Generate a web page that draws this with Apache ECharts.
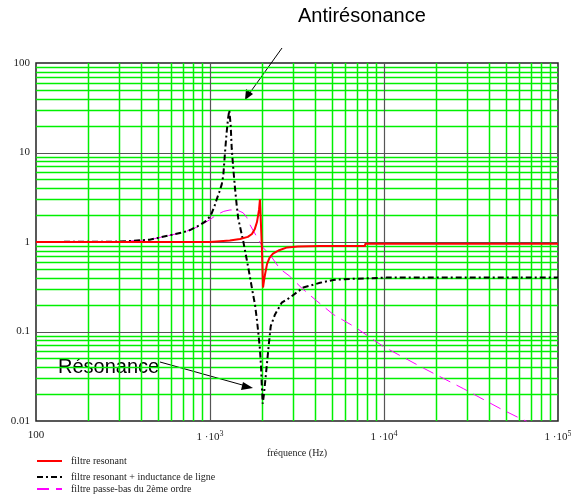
<!DOCTYPE html>
<html>
<head>
<meta charset="utf-8">
<script src="https://cdn.jsdelivr.net/npm/echarts@6/dist/echarts.min.js"></script>
<style>
  html, body { margin: 0; padding: 0; background: #fff; }
  #chart { width: 571px; height: 499px; }
</style>
</head>
<body>
<div id="chart"></div>
<script>
// Frequency responses, [frequency (Hz), |H|]
const filtreResonant = [
  [100, 1.0], [1000, 1.0], [1010, 1.03], [1300, 1.04], [1487, 1.08], [1650, 1.14],
  [1742, 1.23], [1810, 1.4], [1862, 1.67], [1914, 2.3], [1937, 3.0], [1990, 0.8],
  [2017, 0.31], [2040, 0.36], [2070, 0.43], [2128, 0.57], [2200, 0.67], [2301, 0.74],
  [2500, 0.81], [2773, 0.87], [3200, 0.89], [4289, 0.9], [7780, 0.9], [7800, 0.955],
  [100000, 0.955]
];
const filtreInductance = [
  [100, 1.0], [300, 1.01], [450, 1.06], [589, 1.19], [700, 1.28], [767, 1.36],
  [877, 1.55], [950, 1.72], [1000, 1.93], [1023, 2.1], [1060, 2.5], [1093, 3.0],
  [1130, 3.6], [1168, 4.4], [1193, 5.6], [1220, 10.1], [1247, 16.9], [1270, 24],
  [1291, 29.6], [1303, 28.3], [1315, 20.1], [1333, 11.1], [1361, 6.6], [1392, 4.0],
  [1423, 2.6], [1455, 1.8], [1553, 1.02], [1660, 0.515], [1774, 0.25], [1814, 0.2],
  [1854, 0.143], [1895, 0.097], [1937, 0.063], [1964, 0.041], [1982, 0.0265],
  [2009, 0.0156], [2042, 0.02], [2118, 0.041], [2183, 0.075], [2234, 0.115],
  [2364, 0.155], [2583, 0.21], [2886, 0.24], [3436, 0.31], [4289, 0.35],
  [5112, 0.377], [6378, 0.387], [10360, 0.4], [100000, 0.4]
];
const filtrePasseBas = [
  [100, 1.0], [300, 1.01], [450, 1.06], [589, 1.19], [700, 1.28], [767, 1.36],
  [877, 1.52], [1000, 1.78], [1093, 2.02], [1200, 2.2], [1303, 2.28], [1423, 2.28],
  [1550, 2.12], [1626, 1.88], [1699, 1.55], [1854, 1.15], [2024, 0.86], [2213, 0.72],
  [2525, 0.5], [2850, 0.42], [3400, 0.3], [4102, 0.22], [5112, 0.155], [6813, 0.112],
  [9907, 0.068], [16830, 0.039], [28580, 0.023], [46450, 0.0138], [60540, 0.0107],
  [66140, 0.0099]
];

const seriesNames = [
  'filtre resonant',
  'filtre resonant + inductance de ligne',
  'filtre passe-bas du 2ème ordre'
];

// Axis ticks and their labels
const xTicks = [100, 1000, 10000, 100000];
const xTickText = ['100', '1 ·10^3', '1 ·10^4', '1 ·10^5'];
const yTicks = [0.01, 0.1, 1, 10, 100];
const yTickText = ['0.01', '0.1', '1', '10', '100'];

// Intermediate grid lines inside each decade
const xMinor = [200, 300, 400, 500, 600, 700, 800, 900,
                2000, 3000, 4000, 5000, 6000, 7000, 8000, 9000,
                20000, 30000, 40000, 50000, 60000, 70000, 80000, 90000];
const yMinor = [0.02, 0.03, 0.04, 0.05, 0.06, 0.07, 0.08, 0.09,
                0.2, 0.3, 0.4, 0.5, 0.6, 0.7, 0.8, 0.9,
                2, 3, 4, 5, 6, 7, 8, 9,
                20, 30, 40, 50, 60, 70, 80, 90];

const SERIF = '"Liberation Serif", "DejaVu Serif", serif';
const SANS = '"Liberation Sans", Arial, sans-serif';
const GREEN = '#00f000';
const DECADE = '#555555';

function sameLog(a, b) { return Math.abs(Math.log10(a) - Math.log10(b)) < 1e-6; }

function tickLabel(ticks, texts, v) {
  const i = ticks.findIndex(t => sameLog(t, v));
  if (i < 0) return '';
  const s = texts[i];
  const k = s.indexOf('^');
  if (k < 0) return '{b|' + s + '}';
  return '{b|' + s.slice(0, k) + '}{s|' + s.slice(k + 1) + '}';
}

const chart = echarts.init(document.getElementById('chart'), null, { renderer: 'canvas' });

const xMin = xTicks[0], xMax = xTicks[xTicks.length - 1];
const yMin = yTicks[0], yMax = yTicks[yTicks.length - 1];

// Vertical / horizontal grid lines, placed through the axis scales
function vLines(name, values, color, width) {
  return {
    type: 'custom', name, silent: true, z: 1, clip: true,
    data: values.map(v => [v, 1]),
    renderItem: (params, api) => {
      const v = api.value(0);
      const a = api.coord([v, yMax]);
      const b = api.coord([v, yMin]);
      const x = Math.round(a[0]) + 0.5;
      return { type: 'line', silent: true,
               shape: { x1: x, y1: a[1], x2: x, y2: b[1] },
               style: { stroke: color, lineWidth: width, fill: null } };
    }
  };
}
function hLines(name, values, color, width) {
  return {
    type: 'custom', name, silent: true, z: 1, clip: true,
    data: values.map(v => [1000, v]),
    renderItem: (params, api) => {
      const v = api.value(1);
      const a = api.coord([xMin, v]);
      const b = api.coord([xMax, v]);
      const y = Math.round(a[1]) + 0.5;
      return { type: 'line', silent: true,
               shape: { x1: a[0], y1: y, x2: b[0], y2: y },
               style: { stroke: color, lineWidth: width, fill: null } };
    }
  };
}

const hiddenAxisParts = {
  axisLine: { show: false },
  axisTick: { show: false },
  minorTick: { show: false },
  splitLine: { show: false },
  minorSplitLine: { show: false },
  splitArea: { show: false }
};

chart.setOption({
  animation: false,
  backgroundColor: '#ffffff',
  grid: {
    left: 36, right: 13, top: 63, bottom: 78,
    outerBoundsMode: 'none', containLabel: false,
    show: true, borderColor: '#222', borderWidth: 1.5, backgroundColor: 'transparent'
  },
  xAxis: Object.assign({
    type: 'log', logBase: 10, min: xMin, max: xMax,
    name: 'fréquence (Hz)', nameLocation: 'middle', nameGap: 25,
    nameTextStyle: { fontFamily: SERIF, fontSize: 10, color: '#222' },
    axisLabel: {
      margin: 9,
      formatter: v => tickLabel(xTicks, xTickText, v),
      rich: {
        b: { fontFamily: SERIF, fontSize: 11, color: '#222' },
        s: { fontFamily: SERIF, fontSize: 8, color: '#222', padding: [0, 0, 7, 0], verticalAlign: 'bottom' }
      }
    }
  }, hiddenAxisParts),
  yAxis: Object.assign({
    type: 'log', logBase: 10, min: yMin, max: yMax,
    name: 'amplitude', nameLocation: 'middle', nameGap: 32, nameRotate: 90,
    nameTextStyle: { fontFamily: SERIF, fontSize: 7, color: '#888' },
    axisLabel: {
      margin: 6,
      fontFamily: SERIF, fontSize: 11, color: '#222',
      formatter: v => { const i = yTicks.findIndex(t => sameLog(t, v)); return i < 0 ? '' : yTickText[i]; }
    }
  }, hiddenAxisParts),
  legend: [0, 1, 2].map((i, k) => ({
    data: [seriesNames[i]],
    left: 36,
    top: [456, 472, 484][k],
    orient: 'vertical',
    itemWidth: 25, itemHeight: 10, itemGap: 0,
    padding: 0,
    itemStyle: { opacity: 0 },
    textStyle: { fontFamily: SERIF, fontSize: 10, color: '#222', padding: [0, 0, 0, 4] }
  })),
  series: [
    vLines('gridX', xMinor, GREEN, 1.5),
    hLines('gridY', yMinor, GREEN, 1.5),
    vLines('decadeX', xTicks.slice(1, -1), DECADE, 1.2),
    hLines('decadeY', yTicks.slice(1, -1), DECADE, 1.2),
    {
      type: 'line', name: seriesNames[2], data: filtrePasseBas, z: 3,
      showSymbol: false, symbol: 'none', smooth: false,
      lineStyle: { color: '#ff00ff', width: 1, type: [12, 7] },
      itemStyle: { color: '#ff00ff' }
    },
    {
      type: 'line', name: seriesNames[1], data: filtreInductance, z: 4,
      showSymbol: false, symbol: 'none',
      lineStyle: { color: '#000', width: 2, type: [6, 3, 2, 3] },
      itemStyle: { color: '#000' }
    },
    {
      type: 'line', name: seriesNames[0], data: filtreResonant, z: 5,
      showSymbol: false, symbol: 'none',
      lineStyle: { color: '#ff0000', width: 2 },
      itemStyle: { color: '#ff0000' }
    }
  ],
  graphic: [
    { type: 'text', left: 298, top: 6,
      style: { text: 'Antirésonance', font: '20px ' + SANS, fill: '#000' } },
    { type: 'line', shape: { x1: 282, y1: 48, x2: 249, y2: 94 },
      style: { stroke: '#000', lineWidth: 1 } },
    { type: 'polygon', shape: { points: [[245, 100], [246, 89], [253, 94]] },
      style: { fill: '#000' } },
    { type: 'text', left: 58, top: 357,
      style: { text: 'Résonance', font: '20px ' + SANS, fill: '#000',
               backgroundColor: '#fff' } },
    { type: 'line', shape: { x1: 160, y1: 362, x2: 246, y2: 386 },
      style: { stroke: '#000', lineWidth: 1 } },
    { type: 'polygon', shape: { points: [[253, 388], [243, 382], [241, 390]] },
      style: { fill: '#000' } }
  ]
});
</script>
</body>
</html>
